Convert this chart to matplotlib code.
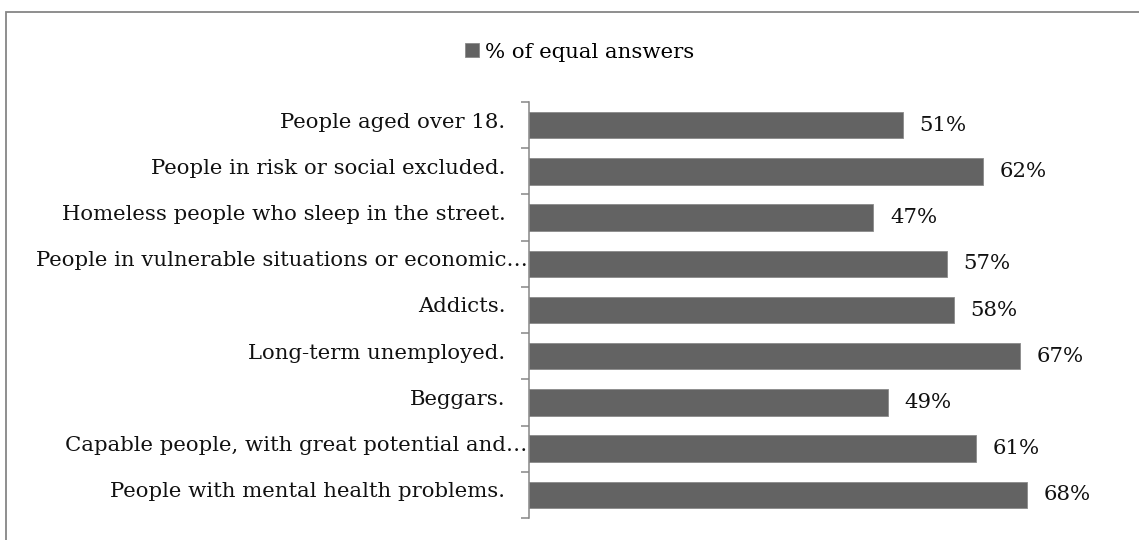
import matplotlib
matplotlib.use('Agg')
import matplotlib.pyplot as plt
from matplotlib.patches import Rectangle
from matplotlib.transforms import ScaledTranslation
import numpy as np

# survey groups, top to bottom as shown
groups = ['People aged over 18.',
          'People in risk or social excluded.',
          'Homeless people who sleep in the street.',
          'People in vulnerable situations or economic\u2026',
          'Addicts.',
          'Long-term unemployed.',
          'Beggars.',
          'Capable people, with great potential and\u2026',
          'People with mental health problems.']
equal_pct = [51, 62, 47, 57, 58, 67, 49, 61, 68]
series_name = '% of equal answers'

bar_color = '#636363'
axis_color = '#868686'
text_color = '#111111'
fs = 15.3

plt.rcParams['font.family'] = ['DejaVu Serif']

fig = plt.figure(figsize=(11.39, 5.4), dpi=100)
ax = fig.add_axes([529 / 1139, 22 / 540, 586 / 1139, 416 / 540])

y = np.arange(len(groups))
bars = ax.barh(y, equal_pct, height=0.57, color=bar_color,
               edgecolor='#8a8a8a', linewidth=0.6, label=series_name)
value_labels = ax.bar_label(bars, fmt='%d%%', padding=12, fontsize=fs,
                            color=text_color)
nudge_down = ScaledTranslation(0, -0.03, fig.dpi_scale_trans)
for t in value_labels:
    t.set_transform(t.get_transform() + nudge_down)

ax.set_xlim(0, 80)
ax.set_ylim(len(groups) - 0.5, -0.5)

# category labels on major ticks, boundary marks on minor ticks
ax.set_yticks(y)
ax.set_yticklabels(groups, fontsize=fs, color=text_color)
ax.set_yticks(np.arange(len(groups) + 1) - 0.5, minor=True)
ax.tick_params(axis='y', which='major', length=0, pad=17)
ax.tick_params(axis='y', which='minor', length=6, width=1.1, color=axis_color)
for tick, name in zip(ax.yaxis.get_major_ticks(), groups):
    if name.endswith('\u2026'):
        tick.set_pad(1)
nudge_up = ScaledTranslation(0, 0.05, fig.dpi_scale_trans)
for lab in ax.get_yticklabels():
    lab.set_transform(lab.get_transform() + nudge_up)

ax.set_xticks([])
for side in ['top', 'right', 'bottom']:
    ax.spines[side].set_visible(False)
ax.spines['left'].set_color(axis_color)
ax.spines['left'].set_linewidth(1.1)

fig.legend(loc='center', bbox_to_anchor=(580 / 1139, 1 - 52 / 540),
           frameon=False, fontsize=fs, handlelength=0.65, handleheight=0.65,
           handletextpad=0.3)

# chart frame
fig.patches.append(Rectangle((6 / 1139, -0.1), 1.2, 1.1 - 12 / 540,
                             transform=fig.transFigure, fill=False,
                             edgecolor=axis_color, linewidth=1.3))

fig.savefig('out.png', dpi=100)
